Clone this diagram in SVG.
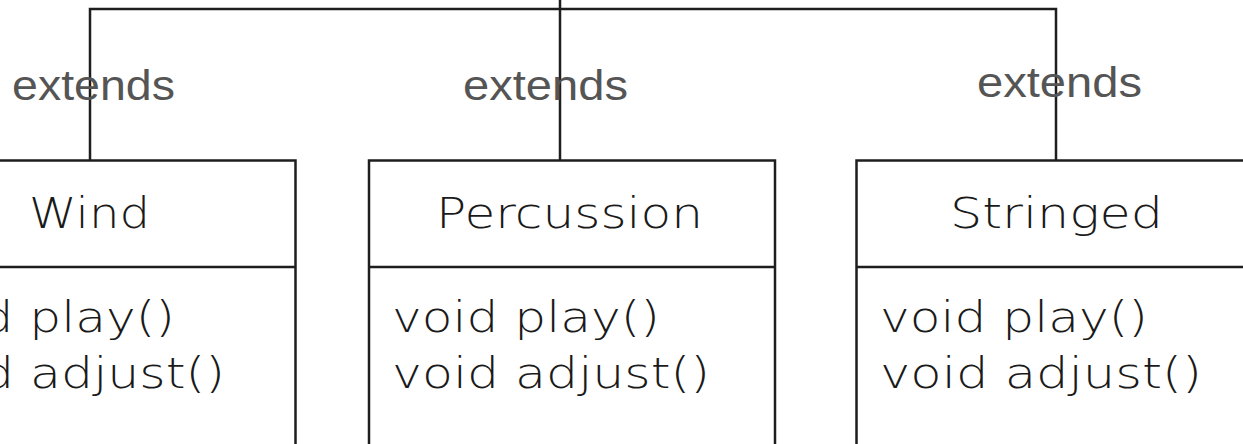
<svg xmlns="http://www.w3.org/2000/svg" width="1243" height="444" viewBox="0 0 1243 444">
  <style>
    .box { fill: #ffffff; stroke: #1e1e1e; stroke-width: 2.5; }
    .div { stroke: #1e1e1e; stroke-width: 2.5; }
    .link { fill: none; stroke: #1e1e1e; stroke-width: 2.5; }
    .lbl { font-family: "Liberation Sans", Arial, sans-serif; font-size: 43px; fill: #555555; }
    .title { font-family: "DejaVu Sans", sans-serif; font-weight: 200; font-size: 42px; fill: #1a1a1a; }
    .member { font-family: "DejaVu Sans", sans-serif; font-weight: 200; font-size: 42px; fill: #1a1a1a; }
  </style>
  <rect x="0" y="0" width="1243" height="444" fill="#ffffff"/>

  <!-- subclass boxes -->
  <g id="wind">
    <rect class="box" x="-110" y="160.5" width="405.5" height="290"/>
    <line class="div" x1="-110" y1="267" x2="295.5" y2="267"/>
    <text class="title" x="29" y="228" textLength="121" lengthAdjust="spacingAndGlyphs">Wind</text>
    <text class="member" x="-93" y="332" textLength="268" lengthAdjust="spacingAndGlyphs">void play()</text>
    <text class="member" x="-93" y="388" textLength="318" lengthAdjust="spacingAndGlyphs">void adjust()</text>
  </g>

  <g id="percussion">
    <rect class="box" x="369" y="160.5" width="406" height="290"/>
    <line class="div" x1="369" y1="267" x2="775" y2="267"/>
    <text class="title" x="436" y="228" textLength="267" lengthAdjust="spacingAndGlyphs">Percussion</text>
    <text class="member" x="392" y="332" textLength="268" lengthAdjust="spacingAndGlyphs">void play()</text>
    <text class="member" x="392" y="388" textLength="318" lengthAdjust="spacingAndGlyphs">void adjust()</text>
  </g>

  <g id="stringed">
    <rect class="box" x="856.5" y="160.5" width="406" height="290"/>
    <line class="div" x1="856.5" y1="267" x2="1262.5" y2="267"/>
    <text class="title" x="950" y="228" textLength="213" lengthAdjust="spacingAndGlyphs">Stringed</text>
    <text class="member" x="880" y="332" textLength="268" lengthAdjust="spacingAndGlyphs">void play()</text>
    <text class="member" x="880" y="388" textLength="322" lengthAdjust="spacingAndGlyphs">void adjust()</text>
  </g>

  <!-- inheritance connectors -->
  <g id="connectors">
    <path class="link" d="M90,160.5 V9 H1056 V160.5"/>
    <line class="link" x1="560" y1="0" x2="560" y2="160.5"/>
    <text class="lbl" x="12" y="100" textLength="163" lengthAdjust="spacingAndGlyphs">extends</text>
    <text class="lbl" x="463" y="100" textLength="165" lengthAdjust="spacingAndGlyphs">extends</text>
    <text class="lbl" x="977" y="97" textLength="165" lengthAdjust="spacingAndGlyphs">extends</text>
  </g>
</svg>
